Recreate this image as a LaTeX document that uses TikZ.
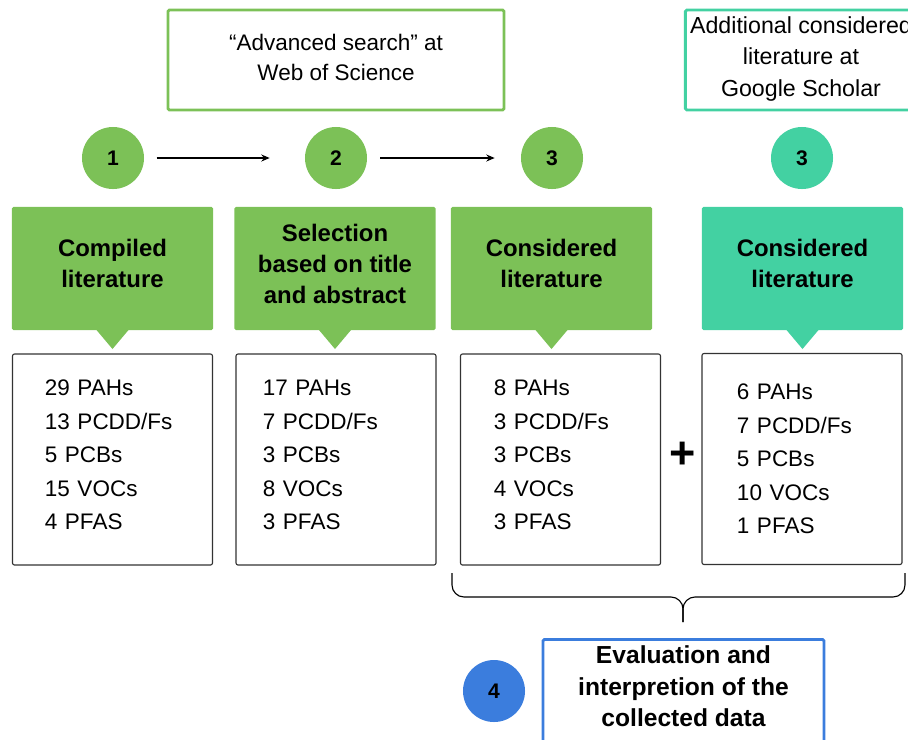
\documentclass[tikz,border=0pt]{standalone}
\usepackage{fontspec}
\setmainfont{Liberation Sans}
\usetikzlibrary{arrows.meta}
\definecolor{stepgreen}{HTML}{7CC157}
\definecolor{stepteal}{HTML}{43D1A2}
\definecolor{stepblue}{HTML}{3B7DDD}

\begin{document}
\begin{tikzpicture}[x=0.025cm, y=-0.025cm,
		srcbox/.style={draw=#1, line width=2pt, rounded corners=1pt, minimum height=2.5cm, align=center, font=\fontsize{16}{21.3}\selectfont},
		stepnum/.style={circle, fill=#1, minimum size=1.55cm, inner sep=0pt, font=\bfseries\fontsize{15}{18}\selectfont},
		headbox/.style={fill=#1, rounded corners=1pt, minimum width=5.025cm, minimum height=3.075cm, align=center, outer sep=0pt, text depth=7pt, font=\bfseries\fontsize{17}{22}\selectfont},
		listbox/.style={draw=black!80, line width=0.8pt, rounded corners=1.5pt, minimum width=5cm, minimum height=5.275cm, text width=#1, align=left, inner sep=0pt, font=\fontsize{16}{23.8}\selectfont},
		listbox/.default=3.375cm,
		evalbox/.style={draw=stepblue, line width=2pt, rounded corners=1pt, minimum width=7.025cm, text depth=3cm, inner ysep=4.5pt, align=center, font=\bfseries\fontsize{17.5}{22.4}\selectfont},
		arr/.style={-{Stealth[length=6pt,width=5pt]}, line width=0.9pt},
		bracket/.style={line width=0.8pt, rounded corners=0.3cm}]
		\useasboundingbox (0,0) rectangle (908,739);

		% sources
		\node[srcbox=stepgreen, minimum width=8.4cm, text depth=4.2pt] (wos) at (336,60) {“Advanced search” at\\Web of Science};
		\node[srcbox=stepteal, minimum width=5.75cm, text depth=5pt, font=\fontsize{16.5}{22.6}\selectfont] (gs) at (801,60) {Additional considered\\literature at\\Google Scholar};

		% steps
		\node[stepnum=stepgreen] (n1) at (113,158) {1};
		\node[stepnum=stepgreen] (n2) at (336,158) {2};
		\node[stepnum=stepgreen] (n3) at (552,158) {3};
		\node[stepnum=stepteal] (n3b) at (802,158) {3};
		\draw[arr, shorten <=0.31cm, shorten >=0.875cm] (n1) -- (n2);
		\draw[arr, shorten <=0.325cm, shorten >=0.65cm] (n2) -- (n3);

		\node[headbox=stepgreen] (h1) at (112.5,268.5) {Compiled\\literature};
		\node[headbox=stepgreen] (h2) at (335,268.5) {Selection\\based on title\\and abstract};
		\node[headbox=stepgreen] (h3) at (551.5,268.5) {Considered\\literature};
		\node[headbox=stepteal] (h4) at (802.5,268.5) {Considered\\literature};
		\foreach \h/\c in {h1/stepgreen, h2/stepgreen, h3/stepgreen, h4/stepteal}
			\fill[\c] (\h.south) ++(-16,0) -- ++(32,0) -- ++(-16,19) -- cycle;

		% counts
		\node[listbox, text depth=101.6pt] (l1) at (112.5,459.5) {29 PAHs\\13 PCDD/Fs\\5 PCBs\\15 VOCs\\4 PFAS};
		\node[listbox=3.65cm, text depth=101.6pt] (l2) at (336,459.5) {17 PAHs\\7 PCDD/Fs\\3 PCBs\\8 VOCs\\3 PFAS};
		\node[listbox=3.325cm, text depth=101.6pt] (l3) at (560.5,459.5) {8 PAHs\\3 PCDD/Fs\\3 PCBs\\4 VOCs\\3 PFAS};
		\node[listbox=3.25cm] (l4) at (802,459) {6 PAHs\\7 PCDD/Fs\\5 PCBs\\10 VOCs\\1 PFAS};
		\node[font=\bfseries\fontsize{32}{32}\selectfont] (plus) at (683,455) {+};

		% evaluation
		\coordinate (tip) at (683,622);
		\draw[bracket] (452,573) -- (452,597) -- (683,597) -- (tip);
		\draw[bracket] (905,573) -- (905,597) -- (683,597) -- (tip);
		\node[stepnum=stepblue] (n4) at (494,691) {4};
		\node[evalbox, anchor=north] (eval) at (683.5,638) {Evaluation and\\interpretion of the\\collected data};
\end{tikzpicture}
\end{document}
